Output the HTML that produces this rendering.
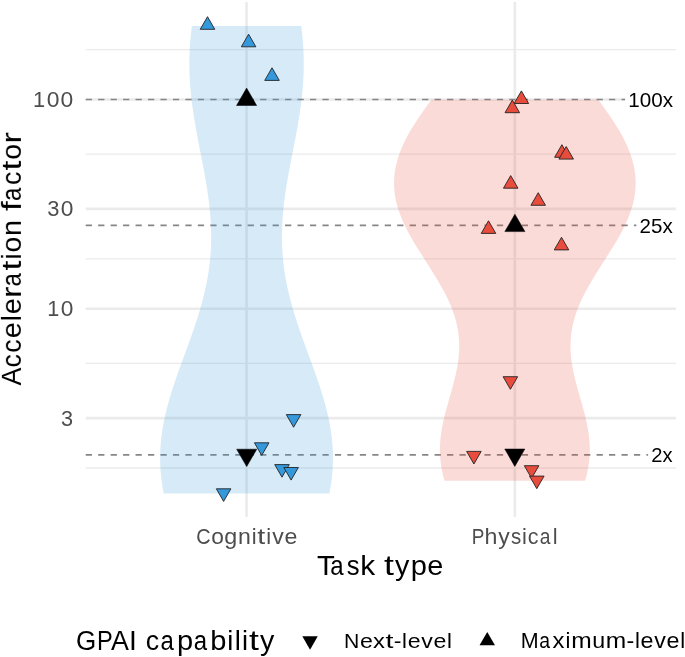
<!DOCTYPE html>
<html><head><meta charset="utf-8"><title>chart</title>
<style>html,body{margin:0;padding:0;background:#fff;}svg{display:block;}</style>
</head><body>
<svg width="685" height="657" viewBox="0 0 685 657">
<rect width="685" height="657" fill="#fff"/>
<line x1="85.7" x2="676.0" y1="49.59" y2="49.59" stroke="#ebebeb" stroke-width="1.3"/>
<line x1="85.7" x2="676.0" y1="154.19" y2="154.19" stroke="#ebebeb" stroke-width="1.3"/>
<line x1="85.7" x2="676.0" y1="258.79" y2="258.79" stroke="#ebebeb" stroke-width="1.3"/>
<line x1="85.7" x2="676.0" y1="363.39" y2="363.39" stroke="#ebebeb" stroke-width="1.3"/>
<line x1="85.7" x2="676.0" y1="467.99" y2="467.99" stroke="#ebebeb" stroke-width="1.3"/>
<line x1="85.7" x2="676.0" y1="99.50" y2="99.50" stroke="#ebebeb" stroke-width="2.6"/>
<line x1="85.7" x2="676.0" y1="208.89" y2="208.89" stroke="#ebebeb" stroke-width="2.6"/>
<line x1="85.7" x2="676.0" y1="308.70" y2="308.70" stroke="#ebebeb" stroke-width="2.6"/>
<line x1="85.7" x2="676.0" y1="418.09" y2="418.09" stroke="#ebebeb" stroke-width="2.6"/>
<line x1="246.55" x2="246.55" y1="2.0" y2="517.0" stroke="#ebebeb" stroke-width="2.6"/>
<line x1="514.85" x2="514.85" y1="2.0" y2="517.0" stroke="#ebebeb" stroke-width="2.6"/>
<line x1="85.7" x2="676.0" y1="99.50" y2="99.50" stroke="#868686" stroke-width="1.7" stroke-dasharray="6.25 6.21"/>
<line x1="85.7" x2="676.0" y1="225.45" y2="225.45" stroke="#868686" stroke-width="1.7" stroke-dasharray="6.25 6.21"/>
<line x1="85.7" x2="676.0" y1="454.92" y2="454.92" stroke="#868686" stroke-width="1.7" stroke-dasharray="6.25 6.21"/>
<path d="M163.76,493.60 L163.58,492.68 L163.40,491.77 L163.23,490.85 L163.06,489.94 L162.90,489.02 L162.74,488.11 L162.59,487.19 L162.44,486.28 L162.29,485.36 L162.15,484.45 L162.02,483.53 L161.88,482.62 L161.76,481.70 L161.64,480.79 L161.52,479.87 L161.41,478.96 L161.30,478.04 L161.20,477.13 L161.10,476.21 L161.00,475.29 L160.92,474.38 L160.83,473.46 L160.75,472.55 L160.68,471.63 L160.61,470.72 L160.54,469.80 L160.48,468.89 L160.43,467.97 L160.38,467.06 L160.33,466.14 L160.29,465.23 L160.26,464.31 L160.23,463.40 L160.20,462.48 L160.18,461.57 L160.16,460.65 L160.15,459.74 L160.15,458.82 L160.15,457.90 L160.15,456.99 L160.16,456.07 L160.17,455.16 L160.19,454.24 L160.21,453.33 L160.24,452.41 L160.27,451.50 L160.31,450.58 L160.35,449.67 L160.40,448.75 L160.45,447.84 L160.51,446.92 L160.57,446.01 L160.63,445.09 L160.70,444.18 L160.78,443.26 L160.86,442.35 L160.94,441.43 L161.03,440.51 L161.13,439.60 L161.23,438.68 L161.33,437.77 L161.44,436.85 L161.55,435.94 L161.66,435.02 L161.79,434.11 L161.91,433.19 L162.04,432.28 L162.17,431.36 L162.31,430.45 L162.46,429.53 L162.60,428.62 L162.76,427.70 L162.91,426.79 L163.07,425.87 L163.23,424.96 L163.40,424.04 L163.58,423.12 L163.75,422.21 L163.93,421.29 L164.12,420.38 L164.30,419.46 L164.50,418.55 L164.69,417.63 L164.89,416.72 L165.10,415.80 L165.30,414.89 L165.51,413.97 L165.73,413.06 L165.95,412.14 L166.17,411.23 L166.39,410.31 L166.62,409.40 L166.86,408.48 L167.09,407.57 L167.33,406.65 L167.57,405.73 L167.82,404.82 L168.07,403.90 L168.32,402.99 L168.57,402.07 L168.83,401.16 L169.09,400.24 L169.36,399.33 L169.62,398.41 L169.89,397.50 L170.16,396.58 L170.44,395.67 L170.72,394.75 L171.00,393.84 L171.28,392.92 L171.56,392.01 L171.85,391.09 L172.14,390.18 L172.43,389.26 L172.73,388.34 L173.02,387.43 L173.32,386.51 L173.62,385.60 L173.93,384.68 L174.23,383.77 L174.54,382.85 L174.85,381.94 L175.16,381.02 L175.47,380.11 L175.78,379.19 L176.10,378.28 L176.42,377.36 L176.74,376.45 L177.05,375.53 L177.38,374.62 L177.70,373.70 L178.02,372.79 L178.35,371.87 L178.67,370.95 L179.00,370.04 L179.33,369.12 L179.66,368.21 L179.99,367.29 L180.32,366.38 L180.65,365.46 L180.98,364.55 L181.32,363.63 L181.65,362.72 L181.98,361.80 L182.32,360.89 L182.65,359.97 L182.99,359.06 L183.32,358.14 L183.66,357.23 L184.00,356.31 L184.33,355.40 L184.67,354.48 L185.00,353.56 L185.34,352.65 L185.67,351.73 L186.01,350.82 L186.35,349.90 L186.68,348.99 L187.01,348.07 L187.35,347.16 L187.68,346.24 L188.01,345.33 L188.35,344.41 L188.68,343.50 L189.01,342.58 L189.34,341.67 L189.67,340.75 L190.00,339.84 L190.33,338.92 L190.65,338.01 L190.98,337.09 L191.30,336.17 L191.62,335.26 L191.95,334.34 L192.27,333.43 L192.59,332.51 L192.90,331.60 L193.22,330.68 L193.53,329.77 L193.85,328.85 L194.16,327.94 L194.47,327.02 L194.78,326.11 L195.08,325.19 L195.39,324.28 L195.69,323.36 L195.99,322.45 L196.29,321.53 L196.59,320.62 L196.88,319.70 L197.18,318.78 L197.47,317.87 L197.76,316.95 L198.04,316.04 L198.33,315.12 L198.61,314.21 L198.89,313.29 L199.17,312.38 L199.44,311.46 L199.71,310.55 L199.98,309.63 L200.25,308.72 L200.52,307.80 L200.78,306.89 L201.04,305.97 L201.29,305.06 L201.55,304.14 L201.80,303.23 L202.05,302.31 L202.29,301.39 L202.54,300.48 L202.78,299.56 L203.01,298.65 L203.25,297.73 L203.48,296.82 L203.70,295.90 L203.93,294.99 L204.15,294.07 L204.37,293.16 L204.59,292.24 L204.80,291.33 L205.01,290.41 L205.21,289.50 L205.42,288.58 L205.62,287.67 L205.81,286.75 L206.00,285.84 L206.19,284.92 L206.38,284.00 L206.56,283.09 L206.74,282.17 L206.92,281.26 L207.09,280.34 L207.26,279.43 L207.43,278.51 L207.59,277.60 L207.75,276.68 L207.90,275.77 L208.05,274.85 L208.20,273.94 L208.35,273.02 L208.49,272.11 L208.62,271.19 L208.76,270.28 L208.89,269.36 L209.01,268.45 L209.14,267.53 L209.26,266.61 L209.37,265.70 L209.49,264.78 L209.59,263.87 L209.70,262.95 L209.80,262.04 L209.90,261.12 L209.99,260.21 L210.08,259.29 L210.17,258.38 L210.25,257.46 L210.33,256.55 L210.41,255.63 L210.48,254.72 L210.55,253.80 L210.61,252.89 L210.68,251.97 L210.73,251.05 L210.79,250.14 L210.84,249.22 L210.89,248.31 L210.93,247.39 L210.97,246.48 L211.00,245.56 L211.04,244.65 L211.07,243.73 L211.09,242.82 L211.11,241.90 L211.13,240.99 L211.15,240.07 L211.16,239.16 L211.17,238.24 L211.17,237.33 L211.17,236.41 L211.17,235.50 L211.17,234.58 L211.16,233.66 L211.14,232.75 L211.13,231.83 L211.11,230.92 L211.09,230.00 L211.06,229.09 L211.03,228.17 L211.00,227.26 L210.96,226.34 L210.93,225.43 L210.88,224.51 L210.84,223.60 L210.79,222.68 L210.74,221.77 L210.69,220.85 L210.63,219.94 L210.57,219.02 L210.51,218.11 L210.44,217.19 L210.37,216.27 L210.30,215.36 L210.22,214.44 L210.15,213.53 L210.06,212.61 L209.98,211.70 L209.89,210.78 L209.81,209.87 L209.71,208.95 L209.62,208.04 L209.52,207.12 L209.42,206.21 L209.32,205.29 L209.22,204.38 L209.11,203.46 L209.00,202.55 L208.89,201.63 L208.78,200.72 L208.66,199.80 L208.54,198.88 L208.42,197.97 L208.30,197.05 L208.17,196.14 L208.04,195.22 L207.91,194.31 L207.78,193.39 L207.65,192.48 L207.51,191.56 L207.37,190.65 L207.24,189.73 L207.09,188.82 L206.95,187.90 L206.81,186.99 L206.66,186.07 L206.51,185.16 L206.36,184.24 L206.21,183.33 L206.06,182.41 L205.90,181.49 L205.74,180.58 L205.59,179.66 L205.43,178.75 L205.27,177.83 L205.11,176.92 L204.94,176.00 L204.78,175.09 L204.61,174.17 L204.45,173.26 L204.28,172.34 L204.11,171.43 L203.94,170.51 L203.77,169.60 L203.60,168.68 L203.43,167.77 L203.26,166.85 L203.08,165.94 L202.91,165.02 L202.73,164.10 L202.56,163.19 L202.38,162.27 L202.20,161.36 L202.03,160.44 L201.85,159.53 L201.67,158.61 L201.49,157.70 L201.32,156.78 L201.14,155.87 L200.96,154.95 L200.78,154.04 L200.60,153.12 L200.42,152.21 L200.24,151.29 L200.06,150.38 L199.88,149.46 L199.71,148.55 L199.53,147.63 L199.35,146.71 L199.17,145.80 L198.99,144.88 L198.82,143.97 L198.64,143.05 L198.46,142.14 L198.29,141.22 L198.11,140.31 L197.94,139.39 L197.76,138.48 L197.59,137.56 L197.42,136.65 L197.24,135.73 L197.07,134.82 L196.90,133.90 L196.73,132.99 L196.57,132.07 L196.40,131.16 L196.23,130.24 L196.07,129.32 L195.90,128.41 L195.74,127.49 L195.58,126.58 L195.42,125.66 L195.26,124.75 L195.10,123.83 L194.95,122.92 L194.79,122.00 L194.64,121.09 L194.49,120.17 L194.33,119.26 L194.19,118.34 L194.04,117.43 L193.89,116.51 L193.75,115.60 L193.61,114.68 L193.47,113.77 L193.33,112.85 L193.19,111.93 L193.06,111.02 L192.92,110.10 L192.79,109.19 L192.66,108.27 L192.54,107.36 L192.41,106.44 L192.29,105.53 L192.17,104.61 L192.05,103.70 L191.93,102.78 L191.82,101.87 L191.71,100.95 L191.60,100.04 L191.49,99.12 L191.39,98.21 L191.28,97.29 L191.18,96.38 L191.08,95.46 L190.99,94.54 L190.90,93.63 L190.81,92.71 L190.72,91.80 L190.63,90.88 L190.55,89.97 L190.47,89.05 L190.39,88.14 L190.32,87.22 L190.24,86.31 L190.17,85.39 L190.11,84.48 L190.04,83.56 L189.98,82.65 L189.92,81.73 L189.87,80.82 L189.81,79.90 L189.76,78.99 L189.71,78.07 L189.67,77.15 L189.63,76.24 L189.59,75.32 L189.55,74.41 L189.52,73.49 L189.49,72.58 L189.46,71.66 L189.44,70.75 L189.42,69.83 L189.40,68.92 L189.38,68.00 L189.37,67.09 L189.36,66.17 L189.35,65.26 L189.35,64.34 L189.35,63.43 L189.35,62.51 L189.36,61.60 L189.36,60.68 L189.38,59.76 L189.39,58.85 L189.41,57.93 L189.43,57.02 L189.45,56.10 L189.48,55.19 L189.51,54.27 L189.54,53.36 L189.58,52.44 L189.62,51.53 L189.66,50.61 L189.70,49.70 L189.75,48.78 L189.80,47.87 L189.86,46.95 L189.91,46.04 L189.97,45.12 L190.04,44.21 L190.10,43.29 L190.17,42.37 L190.24,41.46 L190.32,40.54 L190.40,39.63 L190.48,38.71 L190.56,37.80 L190.65,36.88 L190.74,35.97 L190.83,35.05 L190.93,34.14 L191.02,33.22 L191.13,32.31 L191.23,31.39 L191.34,30.48 L191.45,29.56 L191.56,28.65 L191.68,27.73 L191.79,26.82 L191.92,25.90 L301.18,25.90 L301.31,26.82 L301.42,27.73 L301.54,28.65 L301.65,29.56 L301.76,30.48 L301.87,31.39 L301.97,32.31 L302.08,33.22 L302.17,34.14 L302.27,35.05 L302.36,35.97 L302.45,36.88 L302.54,37.80 L302.62,38.71 L302.70,39.63 L302.78,40.54 L302.86,41.46 L302.93,42.37 L303.00,43.29 L303.06,44.21 L303.13,45.12 L303.19,46.04 L303.24,46.95 L303.30,47.87 L303.35,48.78 L303.40,49.70 L303.44,50.61 L303.48,51.53 L303.52,52.44 L303.56,53.36 L303.59,54.27 L303.62,55.19 L303.65,56.10 L303.67,57.02 L303.69,57.93 L303.71,58.85 L303.72,59.76 L303.74,60.68 L303.74,61.60 L303.75,62.51 L303.75,63.43 L303.75,64.34 L303.75,65.26 L303.74,66.17 L303.73,67.09 L303.72,68.00 L303.70,68.92 L303.68,69.83 L303.66,70.75 L303.64,71.66 L303.61,72.58 L303.58,73.49 L303.55,74.41 L303.51,75.32 L303.47,76.24 L303.43,77.15 L303.39,78.07 L303.34,78.99 L303.29,79.90 L303.23,80.82 L303.18,81.73 L303.12,82.65 L303.06,83.56 L302.99,84.48 L302.93,85.39 L302.86,86.31 L302.78,87.22 L302.71,88.14 L302.63,89.05 L302.55,89.97 L302.47,90.88 L302.38,91.80 L302.29,92.71 L302.20,93.63 L302.11,94.54 L302.02,95.46 L301.92,96.38 L301.82,97.29 L301.71,98.21 L301.61,99.12 L301.50,100.04 L301.39,100.95 L301.28,101.87 L301.17,102.78 L301.05,103.70 L300.93,104.61 L300.81,105.53 L300.69,106.44 L300.56,107.36 L300.44,108.27 L300.31,109.19 L300.18,110.10 L300.04,111.02 L299.91,111.93 L299.77,112.85 L299.63,113.77 L299.49,114.68 L299.35,115.60 L299.21,116.51 L299.06,117.43 L298.91,118.34 L298.77,119.26 L298.61,120.17 L298.46,121.09 L298.31,122.00 L298.15,122.92 L298.00,123.83 L297.84,124.75 L297.68,125.66 L297.52,126.58 L297.36,127.49 L297.20,128.41 L297.03,129.32 L296.87,130.24 L296.70,131.16 L296.53,132.07 L296.37,132.99 L296.20,133.90 L296.03,134.82 L295.86,135.73 L295.68,136.65 L295.51,137.56 L295.34,138.48 L295.16,139.39 L294.99,140.31 L294.81,141.22 L294.64,142.14 L294.46,143.05 L294.28,143.97 L294.11,144.88 L293.93,145.80 L293.75,146.71 L293.57,147.63 L293.39,148.55 L293.22,149.46 L293.04,150.38 L292.86,151.29 L292.68,152.21 L292.50,153.12 L292.32,154.04 L292.14,154.95 L291.96,155.87 L291.78,156.78 L291.61,157.70 L291.43,158.61 L291.25,159.53 L291.07,160.44 L290.90,161.36 L290.72,162.27 L290.54,163.19 L290.37,164.10 L290.19,165.02 L290.02,165.94 L289.84,166.85 L289.67,167.77 L289.50,168.68 L289.33,169.60 L289.16,170.51 L288.99,171.43 L288.82,172.34 L288.65,173.26 L288.49,174.17 L288.32,175.09 L288.16,176.00 L287.99,176.92 L287.83,177.83 L287.67,178.75 L287.51,179.66 L287.36,180.58 L287.20,181.49 L287.04,182.41 L286.89,183.33 L286.74,184.24 L286.59,185.16 L286.44,186.07 L286.29,186.99 L286.15,187.90 L286.01,188.82 L285.86,189.73 L285.73,190.65 L285.59,191.56 L285.45,192.48 L285.32,193.39 L285.19,194.31 L285.06,195.22 L284.93,196.14 L284.80,197.05 L284.68,197.97 L284.56,198.88 L284.44,199.80 L284.32,200.72 L284.21,201.63 L284.10,202.55 L283.99,203.46 L283.88,204.38 L283.78,205.29 L283.68,206.21 L283.58,207.12 L283.48,208.04 L283.39,208.95 L283.29,209.87 L283.21,210.78 L283.12,211.70 L283.04,212.61 L282.95,213.53 L282.88,214.44 L282.80,215.36 L282.73,216.27 L282.66,217.19 L282.59,218.11 L282.53,219.02 L282.47,219.94 L282.41,220.85 L282.36,221.77 L282.31,222.68 L282.26,223.60 L282.22,224.51 L282.17,225.43 L282.14,226.34 L282.10,227.26 L282.07,228.17 L282.04,229.09 L282.01,230.00 L281.99,230.92 L281.97,231.83 L281.96,232.75 L281.94,233.66 L281.93,234.58 L281.93,235.50 L281.93,236.41 L281.93,237.33 L281.93,238.24 L281.94,239.16 L281.95,240.07 L281.97,240.99 L281.99,241.90 L282.01,242.82 L282.03,243.73 L282.06,244.65 L282.10,245.56 L282.13,246.48 L282.17,247.39 L282.21,248.31 L282.26,249.22 L282.31,250.14 L282.37,251.05 L282.42,251.97 L282.49,252.89 L282.55,253.80 L282.62,254.72 L282.69,255.63 L282.77,256.55 L282.85,257.46 L282.93,258.38 L283.02,259.29 L283.11,260.21 L283.20,261.12 L283.30,262.04 L283.40,262.95 L283.51,263.87 L283.61,264.78 L283.73,265.70 L283.84,266.61 L283.96,267.53 L284.09,268.45 L284.21,269.36 L284.34,270.28 L284.48,271.19 L284.61,272.11 L284.75,273.02 L284.90,273.94 L285.05,274.85 L285.20,275.77 L285.35,276.68 L285.51,277.60 L285.67,278.51 L285.84,279.43 L286.01,280.34 L286.18,281.26 L286.36,282.17 L286.54,283.09 L286.72,284.00 L286.91,284.92 L287.10,285.84 L287.29,286.75 L287.48,287.67 L287.68,288.58 L287.89,289.50 L288.09,290.41 L288.30,291.33 L288.51,292.24 L288.73,293.16 L288.95,294.07 L289.17,294.99 L289.40,295.90 L289.62,296.82 L289.85,297.73 L290.09,298.65 L290.32,299.56 L290.56,300.48 L290.81,301.39 L291.05,302.31 L291.30,303.23 L291.55,304.14 L291.81,305.06 L292.06,305.97 L292.32,306.89 L292.58,307.80 L292.85,308.72 L293.12,309.63 L293.39,310.55 L293.66,311.46 L293.93,312.38 L294.21,313.29 L294.49,314.21 L294.77,315.12 L295.06,316.04 L295.34,316.95 L295.63,317.87 L295.92,318.78 L296.22,319.70 L296.51,320.62 L296.81,321.53 L297.11,322.45 L297.41,323.36 L297.71,324.28 L298.02,325.19 L298.32,326.11 L298.63,327.02 L298.94,327.94 L299.25,328.85 L299.57,329.77 L299.88,330.68 L300.20,331.60 L300.51,332.51 L300.83,333.43 L301.15,334.34 L301.48,335.26 L301.80,336.17 L302.12,337.09 L302.45,338.01 L302.77,338.92 L303.10,339.84 L303.43,340.75 L303.76,341.67 L304.09,342.58 L304.42,343.50 L304.75,344.41 L305.09,345.33 L305.42,346.24 L305.75,347.16 L306.09,348.07 L306.42,348.99 L306.75,349.90 L307.09,350.82 L307.43,351.73 L307.76,352.65 L308.10,353.56 L308.43,354.48 L308.77,355.40 L309.10,356.31 L309.44,357.23 L309.78,358.14 L310.11,359.06 L310.45,359.97 L310.78,360.89 L311.12,361.80 L311.45,362.72 L311.78,363.63 L312.12,364.55 L312.45,365.46 L312.78,366.38 L313.11,367.29 L313.44,368.21 L313.77,369.12 L314.10,370.04 L314.43,370.95 L314.75,371.87 L315.08,372.79 L315.40,373.70 L315.72,374.62 L316.05,375.53 L316.36,376.45 L316.68,377.36 L317.00,378.28 L317.32,379.19 L317.63,380.11 L317.94,381.02 L318.25,381.94 L318.56,382.85 L318.87,383.77 L319.17,384.68 L319.48,385.60 L319.78,386.51 L320.08,387.43 L320.37,388.34 L320.67,389.26 L320.96,390.18 L321.25,391.09 L321.54,392.01 L321.82,392.92 L322.10,393.84 L322.38,394.75 L322.66,395.67 L322.94,396.58 L323.21,397.50 L323.48,398.41 L323.74,399.33 L324.01,400.24 L324.27,401.16 L324.53,402.07 L324.78,402.99 L325.03,403.90 L325.28,404.82 L325.53,405.73 L325.77,406.65 L326.01,407.57 L326.24,408.48 L326.48,409.40 L326.71,410.31 L326.93,411.23 L327.15,412.14 L327.37,413.06 L327.59,413.97 L327.80,414.89 L328.00,415.80 L328.21,416.72 L328.41,417.63 L328.60,418.55 L328.80,419.46 L328.98,420.38 L329.17,421.29 L329.35,422.21 L329.52,423.12 L329.70,424.04 L329.87,424.96 L330.03,425.87 L330.19,426.79 L330.34,427.70 L330.50,428.62 L330.64,429.53 L330.79,430.45 L330.93,431.36 L331.06,432.28 L331.19,433.19 L331.31,434.11 L331.44,435.02 L331.55,435.94 L331.66,436.85 L331.77,437.77 L331.87,438.68 L331.97,439.60 L332.07,440.51 L332.16,441.43 L332.24,442.35 L332.32,443.26 L332.40,444.18 L332.47,445.09 L332.53,446.01 L332.59,446.92 L332.65,447.84 L332.70,448.75 L332.75,449.67 L332.79,450.58 L332.83,451.50 L332.86,452.41 L332.89,453.33 L332.91,454.24 L332.93,455.16 L332.94,456.07 L332.95,456.99 L332.95,457.90 L332.95,458.82 L332.95,459.74 L332.94,460.65 L332.92,461.57 L332.90,462.48 L332.87,463.40 L332.84,464.31 L332.81,465.23 L332.77,466.14 L332.72,467.06 L332.67,467.97 L332.62,468.89 L332.56,469.80 L332.49,470.72 L332.42,471.63 L332.35,472.55 L332.27,473.46 L332.18,474.38 L332.10,475.29 L332.00,476.21 L331.90,477.13 L331.80,478.04 L331.69,478.96 L331.58,479.87 L331.46,480.79 L331.34,481.70 L331.22,482.62 L331.08,483.53 L330.95,484.45 L330.81,485.36 L330.66,486.28 L330.51,487.19 L330.36,488.11 L330.20,489.02 L330.04,489.94 L329.87,490.85 L329.70,491.77 L329.52,492.68 L329.34,493.60 Z" fill="#3498db" fill-opacity="0.2"/>
<path d="M444.58,480.70 L444.36,479.95 L444.15,479.21 L443.94,478.46 L443.73,477.72 L443.53,476.97 L443.34,476.23 L443.15,475.48 L442.96,474.74 L442.78,473.99 L442.61,473.25 L442.44,472.50 L442.28,471.76 L442.12,471.01 L441.97,470.26 L441.82,469.52 L441.68,468.77 L441.55,468.03 L441.42,467.28 L441.29,466.54 L441.17,465.79 L441.06,465.05 L440.95,464.30 L440.85,463.56 L440.75,462.81 L440.66,462.06 L440.57,461.32 L440.49,460.57 L440.41,459.83 L440.34,459.08 L440.28,458.34 L440.22,457.59 L440.17,456.85 L440.12,456.10 L440.08,455.36 L440.04,454.61 L440.01,453.87 L439.98,453.12 L439.96,452.37 L439.95,451.63 L439.93,450.88 L439.93,450.14 L439.93,449.39 L439.94,448.65 L439.95,447.90 L439.96,447.16 L439.98,446.41 L440.01,445.67 L440.04,444.92 L440.08,444.18 L440.12,443.43 L440.16,442.68 L440.21,441.94 L440.27,441.19 L440.33,440.45 L440.40,439.70 L440.47,438.96 L440.54,438.21 L440.62,437.47 L440.70,436.72 L440.79,435.98 L440.88,435.23 L440.98,434.49 L441.08,433.74 L441.19,432.99 L441.30,432.25 L441.41,431.50 L441.53,430.76 L441.65,430.01 L441.78,429.27 L441.91,428.52 L442.04,427.78 L442.18,427.03 L442.32,426.29 L442.46,425.54 L442.61,424.79 L442.76,424.05 L442.91,423.30 L443.07,422.56 L443.23,421.81 L443.40,421.07 L443.56,420.32 L443.73,419.58 L443.90,418.83 L444.08,418.09 L444.26,417.34 L444.44,416.60 L444.62,415.85 L444.80,415.10 L444.99,414.36 L445.18,413.61 L445.37,412.87 L445.57,412.12 L445.76,411.38 L445.96,410.63 L446.16,409.89 L446.36,409.14 L446.56,408.40 L446.76,407.65 L446.97,406.91 L447.17,406.16 L447.38,405.41 L447.59,404.67 L447.80,403.92 L448.01,403.18 L448.22,402.43 L448.43,401.69 L448.64,400.94 L448.86,400.20 L449.07,399.45 L449.28,398.71 L449.49,397.96 L449.71,397.22 L449.92,396.47 L450.13,395.72 L450.35,394.98 L450.56,394.23 L450.77,393.49 L450.98,392.74 L451.19,392.00 L451.40,391.25 L451.61,390.51 L451.82,389.76 L452.03,389.02 L452.23,388.27 L452.44,387.52 L452.64,386.78 L452.84,386.03 L453.04,385.29 L453.24,384.54 L453.44,383.80 L453.64,383.05 L453.83,382.31 L454.02,381.56 L454.21,380.82 L454.40,380.07 L454.58,379.33 L454.76,378.58 L454.94,377.83 L455.12,377.09 L455.30,376.34 L455.47,375.60 L455.64,374.85 L455.80,374.11 L455.97,373.36 L456.13,372.62 L456.28,371.87 L456.44,371.13 L456.59,370.38 L456.73,369.64 L456.88,368.89 L457.02,368.14 L457.15,367.40 L457.29,366.65 L457.42,365.91 L457.54,365.16 L457.66,364.42 L457.78,363.67 L457.89,362.93 L458.00,362.18 L458.10,361.44 L458.20,360.69 L458.30,359.95 L458.39,359.20 L458.47,358.45 L458.56,357.71 L458.63,356.96 L458.71,356.22 L458.77,355.47 L458.84,354.73 L458.89,353.98 L458.95,353.24 L458.99,352.49 L459.04,351.75 L459.08,351.00 L459.11,350.25 L459.14,349.51 L459.16,348.76 L459.17,348.02 L459.19,347.27 L459.19,346.53 L459.19,345.78 L459.19,345.04 L459.18,344.29 L459.16,343.55 L459.14,342.80 L459.11,342.06 L459.08,341.31 L459.04,340.56 L459.00,339.82 L458.95,339.07 L458.89,338.33 L458.83,337.58 L458.76,336.84 L458.69,336.09 L458.61,335.35 L458.53,334.60 L458.44,333.86 L458.34,333.11 L458.24,332.37 L458.13,331.62 L458.02,330.87 L457.90,330.13 L457.77,329.38 L457.64,328.64 L457.50,327.89 L457.36,327.15 L457.21,326.40 L457.05,325.66 L456.89,324.91 L456.72,324.17 L456.55,323.42 L456.37,322.67 L456.18,321.93 L455.99,321.18 L455.80,320.44 L455.59,319.69 L455.39,318.95 L455.17,318.20 L454.95,317.46 L454.73,316.71 L454.50,315.97 L454.26,315.22 L454.02,314.48 L453.77,313.73 L453.51,312.98 L453.26,312.24 L452.99,311.49 L452.72,310.75 L452.44,310.00 L452.16,309.26 L451.88,308.51 L451.59,307.77 L451.29,307.02 L450.99,306.28 L450.68,305.53 L450.37,304.79 L450.05,304.04 L449.73,303.29 L449.40,302.55 L449.07,301.80 L448.73,301.06 L448.39,300.31 L448.04,299.57 L447.69,298.82 L447.33,298.08 L446.97,297.33 L446.61,296.59 L446.24,295.84 L445.87,295.10 L445.49,294.35 L445.11,293.60 L444.72,292.86 L444.33,292.11 L443.94,291.37 L443.54,290.62 L443.14,289.88 L442.73,289.13 L442.33,288.39 L441.91,287.64 L441.50,286.90 L441.08,286.15 L440.66,285.40 L440.23,284.66 L439.80,283.91 L439.37,283.17 L438.94,282.42 L438.50,281.68 L438.06,280.93 L437.62,280.19 L437.17,279.44 L436.72,278.70 L436.27,277.95 L435.82,277.21 L435.37,276.46 L434.91,275.71 L434.45,274.97 L433.99,274.22 L433.53,273.48 L433.06,272.73 L432.60,271.99 L432.13,271.24 L431.66,270.50 L431.19,269.75 L430.72,269.01 L430.25,268.26 L429.78,267.52 L429.31,266.77 L428.83,266.02 L428.36,265.28 L427.88,264.53 L427.40,263.79 L426.93,263.04 L426.45,262.30 L425.98,261.55 L425.50,260.81 L425.02,260.06 L424.55,259.32 L424.07,258.57 L423.59,257.83 L423.12,257.08 L422.64,256.33 L422.17,255.59 L421.70,254.84 L421.23,254.10 L420.76,253.35 L420.29,252.61 L419.82,251.86 L419.35,251.12 L418.88,250.37 L418.42,249.63 L417.96,248.88 L417.50,248.13 L417.04,247.39 L416.58,246.64 L416.13,245.90 L415.67,245.15 L415.22,244.41 L414.78,243.66 L414.33,242.92 L413.89,242.17 L413.45,241.43 L413.01,240.68 L412.58,239.94 L412.15,239.19 L411.72,238.44 L411.29,237.70 L410.87,236.95 L410.45,236.21 L410.04,235.46 L409.63,234.72 L409.22,233.97 L408.82,233.23 L408.42,232.48 L408.02,231.74 L407.63,230.99 L407.24,230.25 L406.86,229.50 L406.48,228.75 L406.10,228.01 L405.73,227.26 L405.36,226.52 L405.00,225.77 L404.65,225.03 L404.29,224.28 L403.95,223.54 L403.60,222.79 L403.27,222.05 L402.93,221.30 L402.61,220.55 L402.29,219.81 L401.97,219.06 L401.66,218.32 L401.35,217.57 L401.05,216.83 L400.76,216.08 L400.47,215.34 L400.18,214.59 L399.91,213.85 L399.63,213.10 L399.37,212.36 L399.11,211.61 L398.85,210.86 L398.61,210.12 L398.36,209.37 L398.13,208.63 L397.90,207.88 L397.68,207.14 L397.46,206.39 L397.25,205.65 L397.04,204.90 L396.84,204.16 L396.65,203.41 L396.47,202.67 L396.29,201.92 L396.12,201.17 L395.95,200.43 L395.79,199.68 L395.64,198.94 L395.50,198.19 L395.36,197.45 L395.23,196.70 L395.10,195.96 L394.99,195.21 L394.87,194.47 L394.77,193.72 L394.67,192.98 L394.58,192.23 L394.50,191.48 L394.42,190.74 L394.36,189.99 L394.29,189.25 L394.24,188.50 L394.19,187.76 L394.15,187.01 L394.11,186.27 L394.09,185.52 L394.07,184.78 L394.06,184.03 L394.05,183.28 L394.05,182.54 L394.06,181.79 L394.08,181.05 L394.10,180.30 L394.13,179.56 L394.17,178.81 L394.21,178.07 L394.26,177.32 L394.32,176.58 L394.38,175.83 L394.46,175.09 L394.54,174.34 L394.62,173.59 L394.72,172.85 L394.82,172.10 L394.92,171.36 L395.04,170.61 L395.16,169.87 L395.29,169.12 L395.42,168.38 L395.56,167.63 L395.71,166.89 L395.87,166.14 L396.03,165.40 L396.20,164.65 L396.38,163.90 L396.56,163.16 L396.75,162.41 L396.95,161.67 L397.15,160.92 L397.36,160.18 L397.57,159.43 L397.80,158.69 L398.02,157.94 L398.26,157.20 L398.50,156.45 L398.75,155.71 L399.00,154.96 L399.26,154.21 L399.53,153.47 L399.80,152.72 L400.08,151.98 L400.37,151.23 L400.66,150.49 L400.96,149.74 L401.26,149.00 L401.57,148.25 L401.89,147.51 L402.21,146.76 L402.53,146.01 L402.87,145.27 L403.20,144.52 L403.55,143.78 L403.90,143.03 L404.25,142.29 L404.61,141.54 L404.98,140.80 L405.35,140.05 L405.72,139.31 L406.11,138.56 L406.49,137.82 L406.88,137.07 L407.28,136.32 L407.68,135.58 L408.09,134.83 L408.50,134.09 L408.92,133.34 L409.34,132.60 L409.76,131.85 L410.19,131.11 L410.63,130.36 L411.06,129.62 L411.51,128.87 L411.96,128.13 L412.41,127.38 L412.86,126.63 L413.32,125.89 L413.79,125.14 L414.26,124.40 L414.73,123.65 L415.20,122.91 L415.68,122.16 L416.17,121.42 L416.65,120.67 L417.14,119.93 L417.64,119.18 L418.13,118.44 L418.63,117.69 L419.14,116.94 L419.65,116.20 L420.16,115.45 L420.67,114.71 L421.18,113.96 L421.70,113.22 L422.23,112.47 L422.75,111.73 L423.28,110.98 L423.81,110.24 L424.34,109.49 L424.87,108.74 L425.41,108.00 L425.95,107.25 L426.49,106.51 L427.04,105.76 L427.58,105.02 L428.13,104.27 L428.68,103.53 L429.23,102.78 L429.79,102.04 L430.34,101.29 L430.90,100.55 L431.46,99.80 L598.24,99.80 L598.80,100.55 L599.36,101.29 L599.91,102.04 L600.47,102.78 L601.02,103.53 L601.57,104.27 L602.12,105.02 L602.66,105.76 L603.21,106.51 L603.75,107.25 L604.29,108.00 L604.83,108.74 L605.36,109.49 L605.89,110.24 L606.42,110.98 L606.95,111.73 L607.47,112.47 L608.00,113.22 L608.52,113.96 L609.03,114.71 L609.54,115.45 L610.05,116.20 L610.56,116.94 L611.07,117.69 L611.57,118.44 L612.06,119.18 L612.56,119.93 L613.05,120.67 L613.53,121.42 L614.02,122.16 L614.50,122.91 L614.97,123.65 L615.44,124.40 L615.91,125.14 L616.38,125.89 L616.84,126.63 L617.29,127.38 L617.74,128.13 L618.19,128.87 L618.64,129.62 L619.07,130.36 L619.51,131.11 L619.94,131.85 L620.36,132.60 L620.78,133.34 L621.20,134.09 L621.61,134.83 L622.02,135.58 L622.42,136.32 L622.82,137.07 L623.21,137.82 L623.59,138.56 L623.98,139.31 L624.35,140.05 L624.72,140.80 L625.09,141.54 L625.45,142.29 L625.80,143.03 L626.15,143.78 L626.50,144.52 L626.83,145.27 L627.17,146.01 L627.49,146.76 L627.81,147.51 L628.13,148.25 L628.44,149.00 L628.74,149.74 L629.04,150.49 L629.33,151.23 L629.62,151.98 L629.90,152.72 L630.17,153.47 L630.44,154.21 L630.70,154.96 L630.95,155.71 L631.20,156.45 L631.44,157.20 L631.68,157.94 L631.90,158.69 L632.13,159.43 L632.34,160.18 L632.55,160.92 L632.75,161.67 L632.95,162.41 L633.14,163.16 L633.32,163.90 L633.50,164.65 L633.67,165.40 L633.83,166.14 L633.99,166.89 L634.14,167.63 L634.28,168.38 L634.41,169.12 L634.54,169.87 L634.66,170.61 L634.78,171.36 L634.88,172.10 L634.98,172.85 L635.08,173.59 L635.16,174.34 L635.24,175.09 L635.32,175.83 L635.38,176.58 L635.44,177.32 L635.49,178.07 L635.53,178.81 L635.57,179.56 L635.60,180.30 L635.62,181.05 L635.64,181.79 L635.65,182.54 L635.65,183.28 L635.64,184.03 L635.63,184.78 L635.61,185.52 L635.59,186.27 L635.55,187.01 L635.51,187.76 L635.46,188.50 L635.41,189.25 L635.34,189.99 L635.28,190.74 L635.20,191.48 L635.12,192.23 L635.03,192.98 L634.93,193.72 L634.83,194.47 L634.71,195.21 L634.60,195.96 L634.47,196.70 L634.34,197.45 L634.20,198.19 L634.06,198.94 L633.91,199.68 L633.75,200.43 L633.58,201.17 L633.41,201.92 L633.23,202.67 L633.05,203.41 L632.86,204.16 L632.66,204.90 L632.45,205.65 L632.24,206.39 L632.02,207.14 L631.80,207.88 L631.57,208.63 L631.34,209.37 L631.09,210.12 L630.85,210.86 L630.59,211.61 L630.33,212.36 L630.07,213.10 L629.79,213.85 L629.52,214.59 L629.23,215.34 L628.94,216.08 L628.65,216.83 L628.35,217.57 L628.04,218.32 L627.73,219.06 L627.41,219.81 L627.09,220.55 L626.77,221.30 L626.43,222.05 L626.10,222.79 L625.75,223.54 L625.41,224.28 L625.05,225.03 L624.70,225.77 L624.34,226.52 L623.97,227.26 L623.60,228.01 L623.22,228.75 L622.84,229.50 L622.46,230.25 L622.07,230.99 L621.68,231.74 L621.28,232.48 L620.88,233.23 L620.48,233.97 L620.07,234.72 L619.66,235.46 L619.25,236.21 L618.83,236.95 L618.41,237.70 L617.98,238.44 L617.55,239.19 L617.12,239.94 L616.69,240.68 L616.25,241.43 L615.81,242.17 L615.37,242.92 L614.92,243.66 L614.48,244.41 L614.03,245.15 L613.57,245.90 L613.12,246.64 L612.66,247.39 L612.20,248.13 L611.74,248.88 L611.28,249.63 L610.82,250.37 L610.35,251.12 L609.88,251.86 L609.41,252.61 L608.94,253.35 L608.47,254.10 L608.00,254.84 L607.53,255.59 L607.06,256.33 L606.58,257.08 L606.11,257.83 L605.63,258.57 L605.15,259.32 L604.68,260.06 L604.20,260.81 L603.72,261.55 L603.25,262.30 L602.77,263.04 L602.30,263.79 L601.82,264.53 L601.34,265.28 L600.87,266.02 L600.39,266.77 L599.92,267.52 L599.45,268.26 L598.98,269.01 L598.51,269.75 L598.04,270.50 L597.57,271.24 L597.10,271.99 L596.64,272.73 L596.17,273.48 L595.71,274.22 L595.25,274.97 L594.79,275.71 L594.33,276.46 L593.88,277.21 L593.43,277.95 L592.98,278.70 L592.53,279.44 L592.08,280.19 L591.64,280.93 L591.20,281.68 L590.76,282.42 L590.33,283.17 L589.90,283.91 L589.47,284.66 L589.04,285.40 L588.62,286.15 L588.20,286.90 L587.79,287.64 L587.37,288.39 L586.97,289.13 L586.56,289.88 L586.16,290.62 L585.76,291.37 L585.37,292.11 L584.98,292.86 L584.59,293.60 L584.21,294.35 L583.83,295.10 L583.46,295.84 L583.09,296.59 L582.73,297.33 L582.37,298.08 L582.01,298.82 L581.66,299.57 L581.31,300.31 L580.97,301.06 L580.63,301.80 L580.30,302.55 L579.97,303.29 L579.65,304.04 L579.33,304.79 L579.02,305.53 L578.71,306.28 L578.41,307.02 L578.11,307.77 L577.82,308.51 L577.54,309.26 L577.26,310.00 L576.98,310.75 L576.71,311.49 L576.44,312.24 L576.19,312.98 L575.93,313.73 L575.68,314.48 L575.44,315.22 L575.20,315.97 L574.97,316.71 L574.75,317.46 L574.53,318.20 L574.31,318.95 L574.11,319.69 L573.90,320.44 L573.71,321.18 L573.52,321.93 L573.33,322.67 L573.15,323.42 L572.98,324.17 L572.81,324.91 L572.65,325.66 L572.49,326.40 L572.34,327.15 L572.20,327.89 L572.06,328.64 L571.93,329.38 L571.80,330.13 L571.68,330.87 L571.57,331.62 L571.46,332.37 L571.36,333.11 L571.26,333.86 L571.17,334.60 L571.09,335.35 L571.01,336.09 L570.94,336.84 L570.87,337.58 L570.81,338.33 L570.75,339.07 L570.70,339.82 L570.66,340.56 L570.62,341.31 L570.59,342.06 L570.56,342.80 L570.54,343.55 L570.52,344.29 L570.51,345.04 L570.51,345.78 L570.51,346.53 L570.51,347.27 L570.53,348.02 L570.54,348.76 L570.56,349.51 L570.59,350.25 L570.62,351.00 L570.66,351.75 L570.71,352.49 L570.75,353.24 L570.81,353.98 L570.86,354.73 L570.93,355.47 L570.99,356.22 L571.07,356.96 L571.14,357.71 L571.23,358.45 L571.31,359.20 L571.40,359.95 L571.50,360.69 L571.60,361.44 L571.70,362.18 L571.81,362.93 L571.92,363.67 L572.04,364.42 L572.16,365.16 L572.28,365.91 L572.41,366.65 L572.55,367.40 L572.68,368.14 L572.82,368.89 L572.97,369.64 L573.11,370.38 L573.26,371.13 L573.42,371.87 L573.57,372.62 L573.73,373.36 L573.90,374.11 L574.06,374.85 L574.23,375.60 L574.40,376.34 L574.58,377.09 L574.76,377.83 L574.94,378.58 L575.12,379.33 L575.30,380.07 L575.49,380.82 L575.68,381.56 L575.87,382.31 L576.06,383.05 L576.26,383.80 L576.46,384.54 L576.66,385.29 L576.86,386.03 L577.06,386.78 L577.26,387.52 L577.47,388.27 L577.67,389.02 L577.88,389.76 L578.09,390.51 L578.30,391.25 L578.51,392.00 L578.72,392.74 L578.93,393.49 L579.14,394.23 L579.35,394.98 L579.57,395.72 L579.78,396.47 L579.99,397.22 L580.21,397.96 L580.42,398.71 L580.63,399.45 L580.84,400.20 L581.06,400.94 L581.27,401.69 L581.48,402.43 L581.69,403.18 L581.90,403.92 L582.11,404.67 L582.32,405.41 L582.53,406.16 L582.73,406.91 L582.94,407.65 L583.14,408.40 L583.34,409.14 L583.54,409.89 L583.74,410.63 L583.94,411.38 L584.13,412.12 L584.33,412.87 L584.52,413.61 L584.71,414.36 L584.90,415.10 L585.08,415.85 L585.26,416.60 L585.44,417.34 L585.62,418.09 L585.80,418.83 L585.97,419.58 L586.14,420.32 L586.30,421.07 L586.47,421.81 L586.63,422.56 L586.79,423.30 L586.94,424.05 L587.09,424.79 L587.24,425.54 L587.38,426.29 L587.52,427.03 L587.66,427.78 L587.79,428.52 L587.92,429.27 L588.05,430.01 L588.17,430.76 L588.29,431.50 L588.40,432.25 L588.51,432.99 L588.62,433.74 L588.72,434.49 L588.82,435.23 L588.91,435.98 L589.00,436.72 L589.08,437.47 L589.16,438.21 L589.23,438.96 L589.30,439.70 L589.37,440.45 L589.43,441.19 L589.49,441.94 L589.54,442.68 L589.58,443.43 L589.62,444.18 L589.66,444.92 L589.69,445.67 L589.72,446.41 L589.74,447.16 L589.75,447.90 L589.76,448.65 L589.77,449.39 L589.77,450.14 L589.77,450.88 L589.75,451.63 L589.74,452.37 L589.72,453.12 L589.69,453.87 L589.66,454.61 L589.62,455.36 L589.58,456.10 L589.53,456.85 L589.48,457.59 L589.42,458.34 L589.36,459.08 L589.29,459.83 L589.21,460.57 L589.13,461.32 L589.04,462.06 L588.95,462.81 L588.85,463.56 L588.75,464.30 L588.64,465.05 L588.53,465.79 L588.41,466.54 L588.28,467.28 L588.15,468.03 L588.02,468.77 L587.88,469.52 L587.73,470.26 L587.58,471.01 L587.42,471.76 L587.26,472.50 L587.09,473.25 L586.92,473.99 L586.74,474.74 L586.55,475.48 L586.36,476.23 L586.17,476.97 L585.97,477.72 L585.76,478.46 L585.55,479.21 L585.34,479.95 L585.12,480.70 Z" fill="#e74c3c" fill-opacity="0.2"/>
<polygon points="207.50,16.70 214.77,29.30 200.23,29.30" fill="#3498db" stroke="#222" stroke-width="0.9" stroke-linejoin="miter"/>
<polygon points="248.60,34.20 255.87,46.80 241.33,46.80" fill="#3498db" stroke="#222" stroke-width="0.9" stroke-linejoin="miter"/>
<polygon points="272.00,67.80 279.27,80.40 264.73,80.40" fill="#3498db" stroke="#222" stroke-width="0.9" stroke-linejoin="miter"/>
<polygon points="293.60,427.20 300.87,414.60 286.33,414.60" fill="#3498db" stroke="#222" stroke-width="0.9"/>
<polygon points="261.70,455.40 268.97,442.80 254.43,442.80" fill="#3498db" stroke="#222" stroke-width="0.9"/>
<polygon points="282.00,477.20 289.27,464.60 274.73,464.60" fill="#3498db" stroke="#222" stroke-width="0.9"/>
<polygon points="291.10,480.10 298.37,467.50 283.83,467.50" fill="#3498db" stroke="#222" stroke-width="0.9"/>
<polygon points="223.60,501.40 230.87,488.80 216.33,488.80" fill="#3498db" stroke="#222" stroke-width="0.9"/>
<polygon points="521.40,90.90 528.67,103.50 514.13,103.50" fill="#e74c3c" stroke="#222" stroke-width="0.9"/>
<polygon points="512.30,100.10 519.57,112.70 505.03,112.70" fill="#e74c3c" stroke="#222" stroke-width="0.9"/>
<polygon points="561.90,144.70 569.17,157.30 554.63,157.30" fill="#e74c3c" stroke="#222" stroke-width="0.9"/>
<polygon points="566.20,146.50 573.47,159.10 558.93,159.10" fill="#e74c3c" stroke="#222" stroke-width="0.9"/>
<polygon points="510.70,175.60 517.97,188.20 503.43,188.20" fill="#e74c3c" stroke="#222" stroke-width="0.9"/>
<polygon points="538.20,192.70 545.47,205.30 530.93,205.30" fill="#e74c3c" stroke="#222" stroke-width="0.9"/>
<polygon points="488.50,220.80 495.77,233.40 481.23,233.40" fill="#e74c3c" stroke="#222" stroke-width="0.9"/>
<polygon points="561.50,237.30 568.77,249.90 554.23,249.90" fill="#e74c3c" stroke="#222" stroke-width="0.9"/>
<polygon points="510.40,389.30 517.67,376.70 503.13,376.70" fill="#e74c3c" stroke="#222" stroke-width="0.9"/>
<polygon points="473.90,464.00 481.17,451.40 466.63,451.40" fill="#e74c3c" stroke="#222" stroke-width="0.9"/>
<polygon points="531.60,478.30 538.87,465.70 524.33,465.70" fill="#e74c3c" stroke="#222" stroke-width="0.9"/>
<polygon points="536.80,488.70 544.07,476.10 529.53,476.10" fill="#e74c3c" stroke="#222" stroke-width="0.9"/>
<polygon points="246.60,88.10 256.65,105.50 236.55,105.50" fill="#000" stroke="#000" stroke-width="0.5"/>
<polygon points="514.90,214.20 524.95,231.60 504.85,231.60" fill="#000" stroke="#000" stroke-width="0.5"/>
<polygon points="246.70,466.60 256.75,449.20 236.65,449.20" fill="#000" stroke="#000" stroke-width="0.5"/>
<polygon points="514.80,466.40 524.85,449.00 504.75,449.00" fill="#000" stroke="#000" stroke-width="0.5"/>
<rect x="625.09" y="89.50" width="51.91" height="20" fill="#fff"/>
<rect x="636.34" y="215.45" width="40.66" height="20" fill="#fff"/>
<rect x="648.09" y="444.92" width="28.91" height="20" fill="#fff"/>
<g style="filter:grayscale(1)">
<text x="628.29" y="106.60" font-size="20.4" fill="#000" text-anchor="start" textLength="44.74" lengthAdjust="spacingAndGlyphs" font-family="Liberation Sans, sans-serif" >100x</text>
<text x="639.54" y="232.55" font-size="20.4" fill="#000" text-anchor="start" textLength="33.13" lengthAdjust="spacingAndGlyphs" font-family="Liberation Sans, sans-serif" >25x</text>
<text x="651.29" y="462.02" font-size="20.4" fill="#000" text-anchor="start" textLength="21.28" lengthAdjust="spacingAndGlyphs" font-family="Liberation Sans, sans-serif" >2x</text>
<g transform="translate(0,107.10)"><g font-size="22.0" fill="#4d4d4d" font-family="Liberation Sans, sans-serif"><text x="-6.42" y="0" transform="translate(39.41,0) scale(0.993,1)">1</text><text x="-6.12" y="0" transform="translate(53.02,0) scale(1.040,1)">0</text><text x="-6.12" y="0" transform="translate(66.83,0) scale(1.040,1)">0</text></g></g>
<g transform="translate(0,216.49)"><g font-size="22.0" fill="#4d4d4d" font-family="Liberation Sans, sans-serif"><text x="-6.05" y="0" transform="translate(53.28,0) scale(0.994,1)">3</text><text x="-6.12" y="0" transform="translate(67.06,0) scale(1.035,1)">0</text></g></g>
<g transform="translate(0,316.30)"><g font-size="22.0" fill="#4d4d4d" font-family="Liberation Sans, sans-serif"><text x="-6.42" y="0" transform="translate(53.57,0) scale(0.985,1)">1</text><text x="-6.12" y="0" transform="translate(67.08,0) scale(1.032,1)">0</text></g></g>
<g transform="translate(0,425.69)"><g font-size="22.0" fill="#4d4d4d" font-family="Liberation Sans, sans-serif"><text x="-6.05" y="0" transform="translate(66.95,0) scale(0.987,1)">3</text></g></g>
<g transform="translate(0,544.40)"><g font-size="22.0" fill="#4d4d4d" font-family="Liberation Sans, sans-serif"><text x="-8.08" y="0" transform="translate(203.50,0) scale(0.904,1)">C</text><text x="-6.12" y="0" transform="translate(217.52,0) scale(1.036,1)">o</text><text x="-5.87" y="0" transform="translate(230.49,0) scale(1.059,1)">g</text><text x="-6.13" y="0" transform="translate(244.53,0) scale(1.050,1)">n</text><text x="-2.44" y="0" transform="translate(254.24,0) scale(0.996,1)">i</text><text x="-3.14" y="0" transform="translate(261.45,0) scale(1.302,1)">t</text><text x="-2.44" y="0" transform="translate(268.60,0) scale(0.996,1)">i</text><text x="-5.50" y="0" transform="translate(277.91,0) scale(1.051,1)">v</text><text x="-6.10" y="0" transform="translate(290.87,0) scale(1.052,1)">e</text></g></g>
<g transform="translate(0,544.40)"><g font-size="22.0" fill="#4d4d4d" font-family="Liberation Sans, sans-serif"><text x="-7.66" y="0" transform="translate(478.33,0) scale(0.860,1)">P</text><text x="-6.17" y="0" transform="translate(490.94,0) scale(1.055,1)">h</text><text x="-5.51" y="0" transform="translate(503.98,0) scale(1.044,1)">y</text><text x="-5.41" y="0" transform="translate(515.94,0) scale(0.932,1)">s</text><text x="-2.44" y="0" transform="translate(524.43,0) scale(0.994,1)">i</text><text x="-5.68" y="0" transform="translate(533.20,0) scale(0.975,1)">c</text><text x="-6.58" y="0" transform="translate(545.38,0) scale(0.874,1)">a</text><text x="-2.45" y="0" transform="translate(555.24,0) scale(0.994,1)">l</text></g></g>
<g transform="translate(0,574.70)"><g font-size="28.5" fill="#000" font-family="Liberation Sans, sans-serif"><text x="-8.70" y="0" transform="translate(325.84,0) scale(1.023,1)">T</text><text x="-8.53" y="0" transform="translate(337.35,0) scale(0.843,1)">a</text><text x="-7.01" y="0" transform="translate(352.98,0) scale(0.899,1)">s</text><text x="-8.11" y="0" transform="translate(368.78,0) scale(1.048,1)">k</text><text x="-4.07" y="0" transform="translate(389.11,0) scale(1.253,1)">t</text><text x="-7.13" y="0" transform="translate(402.22,0) scale(1.007,1)">y</text><text x="-8.25" y="0" transform="translate(419.09,0) scale(1.020,1)">p</text><text x="-7.90" y="0" transform="translate(435.33,0) scale(1.013,1)">e</text></g></g>
<g transform="translate(20.90,0) rotate(-90)"><g font-size="27.8" fill="#000" font-family="Liberation Sans, sans-serif"><text x="-9.27" y="0" transform="translate(-376.48,0) scale(0.968,1)">A</text><text x="-7.17" y="0" transform="translate(-360.55,0) scale(0.964,1)">c</text><text x="-7.17" y="0" transform="translate(-345.86,0) scale(0.964,1)">c</text><text x="-7.70" y="0" transform="translate(-330.17,0) scale(1.038,1)">e</text><text x="-3.09" y="0" transform="translate(-318.26,0) scale(0.983,1)">l</text><text x="-7.70" y="0" transform="translate(-306.31,0) scale(1.038,1)">e</text><text x="-5.32" y="0" transform="translate(-291.41,0) scale(1.231,1)">r</text><text x="-8.32" y="0" transform="translate(-279.36,0) scale(0.864,1)">a</text><text x="-3.97" y="0" transform="translate(-265.48,0) scale(1.285,1)">t</text><text x="-3.08" y="0" transform="translate(-256.56,0) scale(0.983,1)">i</text><text x="-7.73" y="0" transform="translate(-244.68,0) scale(1.022,1)">o</text><text x="-7.75" y="0" transform="translate(-227.96,0) scale(1.036,1)">n</text><text x="-4.08" y="0" transform="translate(-205.82,0) scale(1.262,1)">f</text><text x="-8.32" y="0" transform="translate(-193.90,0) scale(0.864,1)">a</text><text x="-7.17" y="0" transform="translate(-178.05,0) scale(0.964,1)">c</text><text x="-3.97" y="0" transform="translate(-165.33,0) scale(1.285,1)">t</text><text x="-7.73" y="0" transform="translate(-151.95,0) scale(1.022,1)">o</text><text x="-5.32" y="0" transform="translate(-137.08,0) scale(1.231,1)">r</text></g></g>
<g transform="translate(0,650.10)"><g font-size="27.8" fill="#000" font-family="Liberation Sans, sans-serif"><text x="-10.47" y="0" transform="translate(85.69,0) scale(0.936,1)">G</text><text x="-9.68" y="0" transform="translate(105.26,0) scale(0.848,1)">P</text><text x="-9.27" y="0" transform="translate(119.86,0) scale(0.966,1)">A</text><text x="-3.86" y="0" transform="translate(132.92,0) scale(1.015,1)">I</text><text x="-7.17" y="0" transform="translate(152.57,0) scale(0.963,1)">c</text><text x="-8.32" y="0" transform="translate(167.75,0) scale(0.863,1)">a</text><text x="-8.04" y="0" transform="translate(185.28,0) scale(1.044,1)">p</text><text x="-8.32" y="0" transform="translate(201.02,0) scale(0.863,1)">a</text><text x="-8.04" y="0" transform="translate(218.55,0) scale(1.044,1)">b</text><text x="-3.08" y="0" transform="translate(230.24,0) scale(0.981,1)">i</text><text x="-3.09" y="0" transform="translate(237.65,0) scale(0.981,1)">l</text><text x="-3.08" y="0" transform="translate(245.06,0) scale(0.981,1)">i</text><text x="-3.97" y="0" transform="translate(254.02,0) scale(1.282,1)">t</text><text x="-6.96" y="0" transform="translate(267.10,0) scale(1.030,1)">y</text></g></g>
<g transform="translate(0,647.70)"><g font-size="21.0" fill="#000" font-family="Liberation Sans, sans-serif"><text x="-7.59" y="0" transform="translate(351.72,0) scale(1.010,1)">N</text><text x="-5.82" y="0" transform="translate(366.38,0) scale(1.104,1)">e</text><text x="-5.26" y="0" transform="translate(378.90,0) scale(1.134,1)">x</text><text x="-3.00" y="0" transform="translate(389.53,0) scale(1.366,1)">t</text><text x="-3.50" y="0" transform="translate(397.58,0) scale(1.102,1)">-</text><text x="-2.34" y="0" transform="translate(404.45,0) scale(1.045,1)">l</text><text x="-5.82" y="0" transform="translate(414.05,0) scale(1.104,1)">e</text><text x="-5.25" y="0" transform="translate(426.99,0) scale(1.103,1)">v</text><text x="-5.82" y="0" transform="translate(439.96,0) scale(1.104,1)">e</text><text x="-2.34" y="0" transform="translate(449.54,0) scale(1.045,1)">l</text></g></g>
<g transform="translate(0,647.80)"><g font-size="21.2" fill="#000" font-family="Liberation Sans, sans-serif"><text x="-8.83" y="0" transform="translate(529.59,0) scale(1.014,1)">M</text><text x="-6.35" y="0" transform="translate(545.17,0) scale(0.915,1)">a</text><text x="-5.31" y="0" transform="translate(558.45,0) scale(1.129,1)">x</text><text x="-2.35" y="0" transform="translate(567.87,0) scale(1.040,1)">i</text><text x="-8.84" y="0" transform="translate(581.43,0) scale(1.159,1)">m</text><text x="-5.88" y="0" transform="translate(598.65,0) scale(1.097,1)">u</text><text x="-8.84" y="0" transform="translate(616.11,0) scale(1.159,1)">m</text><text x="-3.53" y="0" transform="translate(630.44,0) scale(1.097,1)">-</text><text x="-2.36" y="0" transform="translate(637.34,0) scale(1.040,1)">l</text><text x="-5.87" y="0" transform="translate(646.98,0) scale(1.099,1)">e</text><text x="-5.30" y="0" transform="translate(659.98,0) scale(1.098,1)">v</text><text x="-5.87" y="0" transform="translate(673.02,0) scale(1.099,1)">e</text><text x="-2.36" y="0" transform="translate(682.63,0) scale(1.040,1)">l</text></g></g>
</g>
<polygon points="310.05,649.70 317.76,636.35 302.34,636.35" fill="#000"/>
<polygon points="487.25,631.95 494.96,645.30 479.54,645.30" fill="#000"/>
</svg>
</body></html>
